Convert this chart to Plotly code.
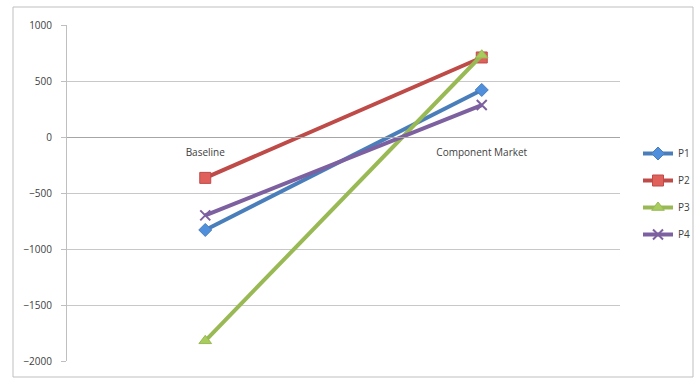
import plotly.graph_objects as go

categories = ["Baseline", "Component Market"]
series_names = ["P1", "P2", "P3", "P4"]
p1 = [-830, 420]
p2 = [-365, 710]
p3 = [-1820, 730]
p4 = [-700, 285]
values = [p1, p2, p3, p4]

colors = ["#4A7EBB", "#BE4B48", "#98B954", "#7D60A0"]
fills = ["#4F8FDC", "#E0605C", "#A8CC5E", "#8F72B2"]
symbols = ["diamond", "square", "triangle-up", "x-thin"]
sizes = [10, 11, 11, 10]

W, H = 694, 379
L, R, T, B = 67, 74, 25, 18
pw, ph = W - L - R, H - T - B

fig = go.Figure()
for i, (name, vals) in enumerate(zip(series_names, values)):
    marker = dict(symbol=symbols[i], size=sizes[i], color=fills[i],
                  line=dict(color=colors[i], width=1))
    if symbols[i] == "x-thin":
        marker = dict(symbol="x-thin", size=sizes[i], color=colors[i],
                      line=dict(color=colors[i], width=2))
    fig.add_trace(go.Scatter(
        x=categories, y=vals, name=name, mode="lines+markers",
        line=dict(color=colors[i], width=4),
        marker=marker, legendgroup=name,
    ))

def px_x(x):
    return (x - L) / pw

def px_y(y):
    return (H - B - y) / ph

fig.add_shape(type="rect", xref="paper", yref="paper",
              x0=px_x(13), x1=px_x(693), y0=px_y(377), y1=px_y(7),
              line=dict(color="#BFBFBF", width=1), layer="below")

fig.update_layout(
    width=W, height=H,
    margin=dict(l=L, r=R, t=T, b=B, autoexpand=False),
    paper_bgcolor="white", plot_bgcolor="white",
    font=dict(family="Open Sans, Liberation Sans, Arial", size=10, color="#404040"),
    showlegend=True,
    legend=dict(x=px_x(638), y=px_y(194), xanchor="left", yanchor="middle",
                font=dict(size=10, color="#404040"),
                tracegroupgap=8, itemwidth=30,
                bgcolor="rgba(0,0,0,0)"),
    xaxis=dict(type="category", range=[-0.5, 1.5], anchor="free",
               position=2/3, showline=True, linecolor="#A6A6A6", linewidth=1,
               showgrid=False, ticks="", zeroline=False,
               tickfont=dict(size=10, color="#404040"), ticklabelstandoff=6),
    yaxis=dict(range=[-2000, 1000], tickvals=[-2000, -1500, -1000, -500, 0, 500, 1000],
               showline=True, linecolor="#BFBFBF", linewidth=1,
               showgrid=True, gridcolor="#C8C8C8", gridwidth=1,
               ticks="outside", ticklen=5, tickcolor="#BFBFBF",
               zeroline=False, tickfont=dict(size=10, color="#404040"),
               ticklabelstandoff=7),
)

fig.write_html("out.html")
